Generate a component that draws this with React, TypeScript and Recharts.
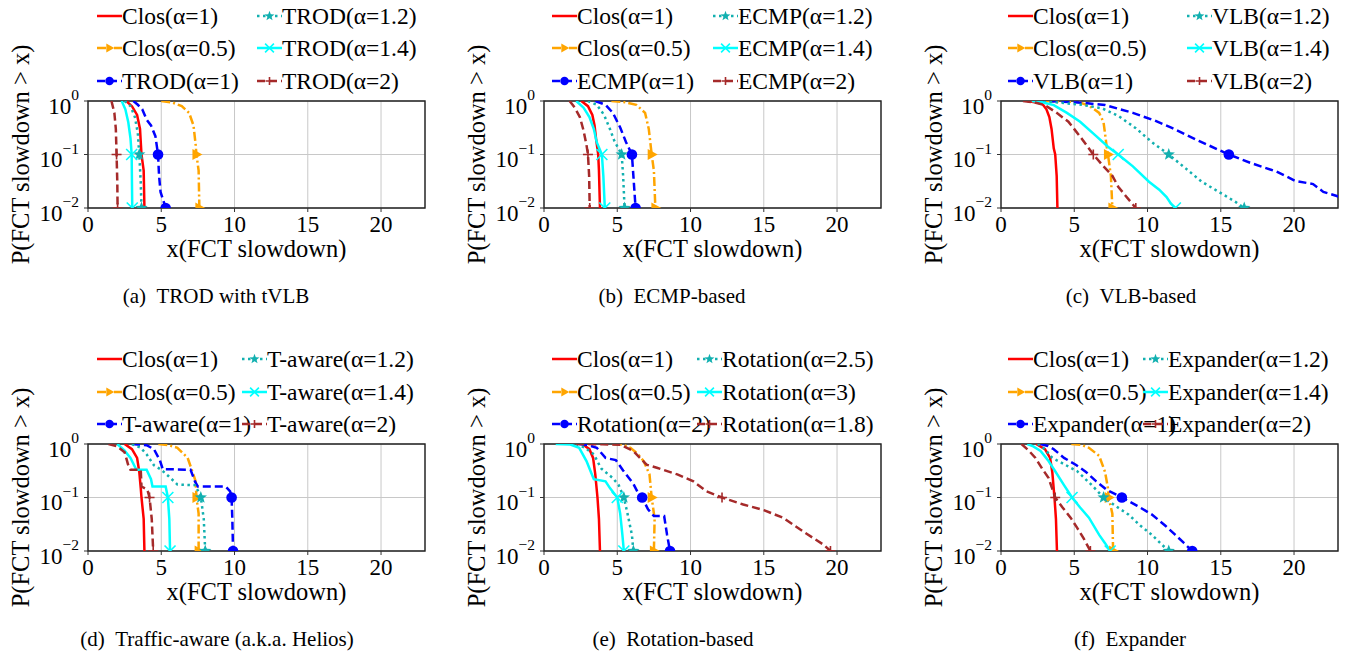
import React from 'react';
import { LineChart, Line, XAxis, YAxis, CartesianGrid, ReferenceArea } from 'recharts';

type Pt = [number, number];

// ---- panel (a) TROD with tVLB ----
const aClos1: Pt[] = [[2.6, 1], [3.0, 0.8], [3.35, 0.55], [3.55, 0.3], [3.65, 0.1], [3.8, 0.05], [3.85, 0.01]];
const aClos05: Pt[] = [[5.0, 1], [5.8, 0.93], [6.4, 0.8], [6.9, 0.6], [7.2, 0.35], [7.35, 0.15], [7.4, 0.1], [7.55, 0.05], [7.6, 0.01]];
const aTrod1: Pt[] = [[3.1, 1], [3.4, 0.85], [3.7, 0.7], [4.0, 0.45], [4.3, 0.35], [4.6, 0.22], [4.78, 0.1], [4.85, 0.04], [4.95, 0.02], [5.3, 0.01]];
const aTrod12: Pt[] = [[2.5, 1], [2.9, 0.8], [3.2, 0.5], [3.4, 0.25], [3.5, 0.1], [3.6, 0.03], [3.65, 0.01]];
const aTrod14: Pt[] = [[2.3, 1], [2.55, 0.7], [2.75, 0.4], [2.9, 0.2], [2.98, 0.1], [3.0, 0.03], [3.02, 0.01]];
const aTrod2: Pt[] = [[1.6, 1], [1.8, 0.6], [1.9, 0.3], [1.95, 0.1], [2.0, 0.03], [2.02, 0.01]];

// ---- panel (b) ECMP-based ----
const bClos1: Pt[] = [[2.55, 1], [3.0, 0.8], [3.3, 0.55], [3.45, 0.35], [3.55, 0.2], [3.7, 0.1], [3.75, 0.05], [3.82, 0.01]];
const bClos05: Pt[] = [[4.6, 1], [5.5, 0.95], [6.3, 0.85], [6.9, 0.6], [7.15, 0.3], [7.35, 0.1], [7.5, 0.05], [7.6, 0.01]];
const bEcmp1: Pt[] = [[3.5, 1], [4.2, 0.85], [4.7, 0.6], [5.2, 0.32], [5.6, 0.17], [6.0, 0.1], [6.1, 0.04], [6.25, 0.01]];
const bEcmp12: Pt[] = [[3.0, 1], [3.6, 0.85], [4.1, 0.55], [4.5, 0.3], [4.8, 0.18], [5.3, 0.1], [5.4, 0.04], [5.5, 0.01]];
const bEcmp14: Pt[] = [[2.2, 1], [2.7, 0.75], [3.1, 0.5], [3.4, 0.3], [3.6, 0.17], [3.95, 0.1], [4.05, 0.04], [4.15, 0.01]];
const bEcmp2: Pt[] = [[1.75, 1], [2.1, 0.75], [2.45, 0.5], [2.7, 0.28], [2.9, 0.15], [3.0, 0.1], [3.08, 0.04], [3.12, 0.01]];

// ---- panel (c) VLB-based ----
const cClos1: Pt[] = [[1.8, 1], [2.8, 0.9], [3.1, 0.7], [3.3, 0.5], [3.45, 0.3], [3.6, 0.13], [3.7, 0.1], [3.8, 0.04], [3.85, 0.01]];
const cClos05: Pt[] = [[3.0, 1], [4.5, 0.98], [5.3, 0.95], [6.0, 0.82], [6.7, 0.6], [7.0, 0.4], [7.2, 0.15], [7.3, 0.1], [7.5, 0.04], [7.6, 0.01]];
const cVlb1: Pt[] = [[2.5, 1], [4.2, 0.97], [5.5, 0.93], [7.1, 0.84], [9.0, 0.6], [10.5, 0.43], [11.7, 0.31], [13.5, 0.18], [15.55, 0.1], [17.0, 0.07], [18.8, 0.048], [20.1, 0.032], [21.3, 0.028], [22.0, 0.02], [23.5, 0.015]];
const cVlb12: Pt[] = [[2.5, 1], [4.0, 0.93], [5.5, 0.85], [6.9, 0.73], [8.0, 0.53], [9.2, 0.31], [10.3, 0.17], [11.45, 0.1], [12.6, 0.055], [13.7, 0.031], [15.3, 0.017], [16.0, 0.013], [16.6, 0.01]];
const cVlb14: Pt[] = [[2.1, 1], [2.8, 0.95], [3.6, 0.84], [4.5, 0.6], [5.4, 0.41], [6.5, 0.22], [7.3, 0.14], [8.0, 0.1], [9.0, 0.06], [10.1, 0.031], [10.8, 0.022], [11.3, 0.016], [11.6, 0.012], [11.9, 0.01]];
const cVlb2: Pt[] = [[1.5, 1], [2.2, 0.95], [3.0, 0.84], [3.8, 0.6], [4.6, 0.41], [5.5, 0.2], [6.3, 0.1], [7.0, 0.06], [7.6, 0.04], [8.0, 0.025], [8.5, 0.017], [9.2, 0.01]];

// ---- panel (d) Traffic-aware ----
const dClos1: Pt[] = [[2.5, 1], [3.0, 0.8], [3.35, 0.55], [3.5, 0.3], [3.6, 0.15], [3.65, 0.1], [3.8, 0.04], [3.85, 0.01]];
const dClos05: Pt[] = [[4.8, 1], [5.5, 0.95], [6.1, 0.85], [6.8, 0.55], [7.1, 0.32], [7.35, 0.2], [7.4, 0.1], [7.55, 0.05], [7.55, 0.01]];
const dTaw1: Pt[] = [[3.0, 1], [4.0, 0.95], [4.5, 0.8], [4.9, 0.5], [5.1, 0.34], [7.0, 0.33], [7.3, 0.2], [7.5, 0.16], [9.4, 0.16], [9.7, 0.13], [9.8, 0.1], [9.85, 0.04], [9.9, 0.01]];
const dTaw12: Pt[] = [[3.0, 1], [3.6, 0.85], [4.0, 0.64], [4.5, 0.4], [5.0, 0.33], [5.5, 0.25], [6.1, 0.175], [7.3, 0.17], [7.6, 0.12], [7.7, 0.1], [7.9, 0.04], [8.0, 0.01]];
const dTaw14: Pt[] = [[2.0, 1], [2.5, 0.75], [2.9, 0.55], [3.3, 0.33], [4.0, 0.33], [4.3, 0.22], [4.4, 0.16], [5.3, 0.16], [5.45, 0.1], [5.55, 0.04], [5.6, 0.01]];
const dTaw2: Pt[] = [[1.4, 1], [2.0, 0.9], [2.5, 0.7], [2.75, 0.4], [2.9, 0.33], [3.6, 0.33], [3.65, 0.16], [4.05, 0.14], [4.2, 0.1], [4.35, 0.04], [4.45, 0.01]];

// ---- panel (e) Rotation-based ----
const eClos1: Pt[] = [[2.6, 1], [3.1, 0.8], [3.35, 0.55], [3.5, 0.27], [3.65, 0.1], [3.75, 0.04], [3.82, 0.01]];
const eClos05: Pt[] = [[4.7, 1], [5.4, 0.97], [5.9, 0.85], [6.4, 0.65], [6.8, 0.48], [7.2, 0.27], [7.35, 0.1], [7.55, 0.04], [7.5, 0.01]];
const eRot2: Pt[] = [[2.4, 1], [3.0, 0.95], [3.6, 0.85], [4.2, 0.55], [4.9, 0.5], [5.4, 0.32], [6.1, 0.18], [6.5, 0.11], [6.7, 0.1], [7.1, 0.06], [7.5, 0.045], [8.2, 0.045], [8.4, 0.02], [8.6, 0.01]];
const eRot25: Pt[] = [[2.2, 1], [2.8, 0.85], [3.4, 0.64], [3.9, 0.35], [4.7, 0.23], [5.1, 0.17], [5.45, 0.1], [5.7, 0.05], [6.0, 0.02], [6.1, 0.01]];
const eRot3: Pt[] = [[0.8, 1], [1.8, 0.98], [2.4, 0.85], [2.9, 0.48], [3.2, 0.3], [3.4, 0.22], [4.2, 0.2], [4.5, 0.15], [5.0, 0.1], [5.2, 0.05], [5.35, 0.02], [5.45, 0.01]];
const eRot18: Pt[] = [[2.2, 1], [4.0, 0.99], [5.2, 0.97], [6.1, 0.74], [7.0, 0.41], [7.7, 0.36], [9.1, 0.27], [10.2, 0.2], [11.1, 0.13], [12.15, 0.1], [13.6, 0.074], [15.0, 0.058], [16.3, 0.042], [17.7, 0.023], [19.1, 0.013], [19.55, 0.01]];

// ---- panel (f) Expander ----
const fClos1: Pt[] = [[2.4, 1], [3.0, 0.8], [3.35, 0.55], [3.5, 0.3], [3.65, 0.1], [3.75, 0.04], [3.82, 0.01]];
const fClos05: Pt[] = [[4.8, 1], [5.5, 0.96], [6.0, 0.85], [6.7, 0.6], [7.1, 0.3], [7.3, 0.15], [7.35, 0.1], [7.6, 0.05], [7.65, 0.01]];
const fExp1: Pt[] = [[2.7, 1], [3.2, 0.92], [3.6, 0.8], [4.3, 0.55], [5.1, 0.41], [5.8, 0.3], [6.5, 0.2], [7.2, 0.14], [8.25, 0.1], [9.3, 0.07], [10.3, 0.048], [11.2, 0.03], [11.9, 0.02], [12.5, 0.014], [13.05, 0.01]];
const fExp12: Pt[] = [[2.5, 1], [3.0, 0.8], [3.5, 0.55], [4.3, 0.42], [5.2, 0.31], [6.2, 0.17], [7.0, 0.1], [7.8, 0.07], [8.7, 0.048], [9.5, 0.03], [10.3, 0.02], [11.0, 0.013], [11.45, 0.01]];
const fExp14: Pt[] = [[1.8, 1], [2.2, 0.9], [2.7, 0.74], [3.2, 0.5], [3.7, 0.31], [4.3, 0.17], [4.85, 0.1], [5.4, 0.065], [6.0, 0.042], [6.7, 0.02], [7.1, 0.014], [7.45, 0.01]];
const fExp2: Pt[] = [[1.4, 1], [1.9, 0.75], [2.35, 0.55], [2.8, 0.35], [3.25, 0.23], [3.7, 0.1], [4.2, 0.065], [4.75, 0.042], [5.2, 0.027], [5.65, 0.017], [6.1, 0.01]];

// legend labels, in series order
const aLabels = ['Clos(α=1)', 'Clos(α=0.5)', 'TROD(α=1)', 'TROD(α=1.2)', 'TROD(α=1.4)', 'TROD(α=2)'];
const bLabels = ['Clos(α=1)', 'Clos(α=0.5)', 'ECMP(α=1)', 'ECMP(α=1.2)', 'ECMP(α=1.4)', 'ECMP(α=2)'];
const cLabels = ['Clos(α=1)', 'Clos(α=0.5)', 'VLB(α=1)', 'VLB(α=1.2)', 'VLB(α=1.4)', 'VLB(α=2)'];
const dLabels = ['Clos(α=1)', 'Clos(α=0.5)', 'T-aware(α=1)', 'T-aware(α=1.2)', 'T-aware(α=1.4)', 'T-aware(α=2)'];
const eLabels = ['Clos(α=1)', 'Clos(α=0.5)', 'Rotation(α=2)', 'Rotation(α=2.5)', 'Rotation(α=3)', 'Rotation(α=1.8)'];
const fLabels = ['Clos(α=1)', 'Clos(α=0.5)', 'Expander(α=1)', 'Expander(α=1.2)', 'Expander(α=1.4)', 'Expander(α=2)'];

const captions = [
  ['(a)', 'TROD with tVLB'],
  ['(b)', 'ECMP-based'],
  ['(c)', 'VLB-based'],
  ['(d)', 'Traffic-aware (a.k.a. Helios)'],
  ['(e)', 'Rotation-based'],
  ['(f)', 'Expander'],
];

const xTicks = [0, 5, 10, 15, 20];
const yTicks = [0.01, 0.1, 1];
const yExp: Record<string, string> = { '0.01': '−2', '0.1': '−1', '1': '0' };

const FONT = "'Liberation Serif', 'Times New Roman', serif";

type Kind = 'none' | 'tri' | 'circle' | 'star' | 'x' | 'plus';
const styles: { color: string; dash?: string; mark: Kind }[] = [
  { color: '#ff0000', mark: 'none' },
  { color: '#ffa500', dash: '9 3 2 3', mark: 'tri' },
  { color: '#0000ff', dash: '8 4', mark: 'circle' },
  { color: '#12b0b0', dash: '2.5 3.5', mark: 'star' },
  { color: '#00ffff', mark: 'x' },
  { color: '#a52a2a', dash: '8 4', mark: 'plus' },
];

const panels = [
  { series: [aClos1, aClos05, aTrod1, aTrod12, aTrod14, aTrod2], labels: aLabels, left: 7.5, top: 1, leg: [97, 257], rows: [15.5, 48, 80.5], cap: [216, 296] },
  { series: [bClos1, bClos05, bEcmp1, bEcmp12, bEcmp14, bEcmp2], labels: bLabels, left: 464.3, top: 1, leg: [552, 713], rows: [15.5, 48, 80.5], cap: [672, 296] },
  { series: [cClos1, cClos05, cVlb1, cVlb12, cVlb14, cVlb2], labels: cLabels, left: 920.7, top: 1, leg: [1008, 1187], rows: [15.5, 48, 80.5], cap: [1131, 296] },
  { series: [dClos1, dClos05, dTaw1, dTaw12, dTaw14, dTaw2], labels: dLabels, left: 7.5, top: 344.3, leg: [97, 242], rows: [358.5, 391.5, 424], cap: [217, 639] },
  { series: [eClos1, eClos05, eRot2, eRot25, eRot3, eRot18], labels: eLabels, left: 464.3, top: 344.3, leg: [552, 697], rows: [358.5, 391.5, 424], cap: [673, 639] },
  { series: [fClos1, fClos05, fExp1, fExp12, fExp14, fExp2], labels: fLabels, left: 920.7, top: 344.3, leg: [1008, 1143], rows: [358.5, 391.5, 424], cap: [1130, 639] },
];

const toRows = (pts: Pt[]) => pts.map(([x, y]) => ({ x, y }));

function Mark({ kind, x, y, color, s = 1 }: { kind: Kind; x: number; y: number; color: string; s?: number }) {
  if (kind === 'tri') {
    return <polygon points={`${x + 6 * s},${y} ${x - 4 * s},${y - 5.5 * s} ${x - 4 * s},${y + 5.5 * s}`} fill={color} />;
  }
  if (kind === 'circle') return <circle cx={x} cy={y} r={5.3 * s} fill={color} />;
  if (kind === 'star') {
    const p: string[] = [];
    for (let i = 0; i < 10; i++) {
      const r = (i % 2 === 0 ? 6.5 : 2.7) * s;
      const a = -Math.PI / 2 + (i * Math.PI) / 5;
      p.push(`${x + r * Math.cos(a)},${y + r * Math.sin(a)}`);
    }
    return <polygon points={p.join(' ')} fill={color} />;
  }
  if (kind === 'x') {
    const d = 5.5 * s;
    return <path d={`M${x - d},${y - d}L${x + d},${y + d}M${x - d},${y + d}L${x + d},${y - d}`} stroke={color} strokeWidth={1.6} fill="none" />;
  }
  if (kind === 'plus') {
    const d = 5 * s;
    return <path d={`M${x},${y - d}V${y + d}M${x - d},${y}H${x + d}`} stroke={color} strokeWidth={1.6} fill="none" />;
  }
  return null;
}

const XTick = (props: any) => {
  const { x, y, payload } = props;
  return (
    <text x={x} y={y + 20} textAnchor="middle" fontSize={23} fontFamily={FONT} fill="#000">
      {payload.value}
    </text>
  );
};

const YTick = (props: any) => {
  const { x, y, payload } = props;
  return (
    <text x={x - 5} y={y} textAnchor="end" fontFamily={FONT} fill="#000">
      <tspan dy={12.5} fontSize={23}>10</tspan>
      <tspan dy={-13.5} fontSize={15.5}>{yExp[String(payload.value)]}</tspan>
    </text>
  );
};

function Panel({ p, idx }: { p: (typeof panels)[number]; idx: number }) {
  return (
    <>
      <div style={{ position: 'absolute', left: p.left, top: p.top }}>
        <LineChart width={427} height={267} margin={{ top: 100, right: 10, left: 0, bottom: 0 }}>
          <CartesianGrid stroke="#c8c8c8" strokeWidth={1} />
          <XAxis
            type="number"
            dataKey="x"
            domain={[0, 23]}
            ticks={xTicks}
            allowDataOverflow
            height={60}
            tick={<XTick />}
            tickSize={4}
            tickMargin={0}
            axisLine={false}
            tickLine={{ stroke: '#333' }}
            label={{ value: 'x(FCT slowdown)', position: 'insideBottom', offset: 11, fontSize: 24.5, fill: '#000', fontFamily: FONT }}
          />
          <YAxis
            type="number"
            dataKey="y"
            scale="log"
            domain={[0.01, 1]}
            ticks={yTicks}
            allowDataOverflow
            width={80}
            tick={<YTick />}
            tickSize={4}
            tickMargin={0}
            axisLine={false}
            tickLine={{ stroke: '#333' }}
            label={{ value: 'P(FCT slowdown > x)', angle: -90, position: 'insideLeft', offset: 12.5, fontSize: 24.5, fill: '#000', fontFamily: FONT, style: { textAnchor: 'middle' } }}
          />
          <ReferenceArea x1={0} x2={23} y1={0.01} y2={1} fill="none" fillOpacity={0} stroke="#222" strokeWidth={1.4} ifOverflow="visible" />
          {p.series.map((s, i) => {
            const st = styles[i];
            return (
              <Line
                key={`${idx}-${i}`}
                data={toRows(s)}
                dataKey="y"
                type="linear"
                stroke={st.color}
                strokeWidth={2.5}
                strokeDasharray={st.dash}
                isAnimationActive={false}
                activeDot={false}
                dot={(dp: any) => {
                  const show = dp.payload && (dp.payload.y === 0.1 || dp.payload.y === 0.01);
                  return (
                    <g key={`m${idx}-${i}-${dp.index}`}>
                      {show ? <Mark kind={st.mark} x={dp.cx} y={dp.cy} color={st.color} /> : null}
                    </g>
                  );
                }}
              />
            );
          })}
        </LineChart>
      </div>
      {p.labels.map((lab, i) => {
        const st = styles[i];
        const col = i < 3 ? 0 : 1;
        const row = i % 3;
        return (
          <div
            key={`l${idx}-${i}`}
            style={{ position: 'absolute', left: p.leg[col], top: p.rows[row] - 13, height: 26, display: 'flex', alignItems: 'center', whiteSpace: 'nowrap' }}
          >
            <svg width={25} height={20} style={{ display: 'block' }}>
              <line x1={0} y1={10} x2={25} y2={10} stroke={st.color} strokeWidth={2.5} strokeDasharray={st.dash} />
              <Mark kind={st.mark} x={12.5} y={10} color={st.color} s={0.8} />
            </svg>
            <span style={{ fontSize: 23.5, lineHeight: '26px', marginLeft: 0 }}>{lab}</span>
          </div>
        );
      })}
      <div
        style={{ position: 'absolute', left: p.cap[0] - 200, top: p.cap[1] - 13, width: 400, textAlign: 'center', fontSize: 21, lineHeight: '26px', whiteSpace: 'nowrap' }}
      >
        {captions[idx][0]}
        {'\u2002'}
        {captions[idx][1]}
      </div>
    </>
  );
}

export default function App() {
  return (
    <div style={{ position: 'absolute', left: 0, top: 0, width: 1350, height: 658, background: '#fff', fontFamily: FONT, color: '#000', overflow: 'hidden' }}>
      {panels.map((p, i) => (
        <Panel key={i} p={p} idx={i} />
      ))}
    </div>
  );
}
